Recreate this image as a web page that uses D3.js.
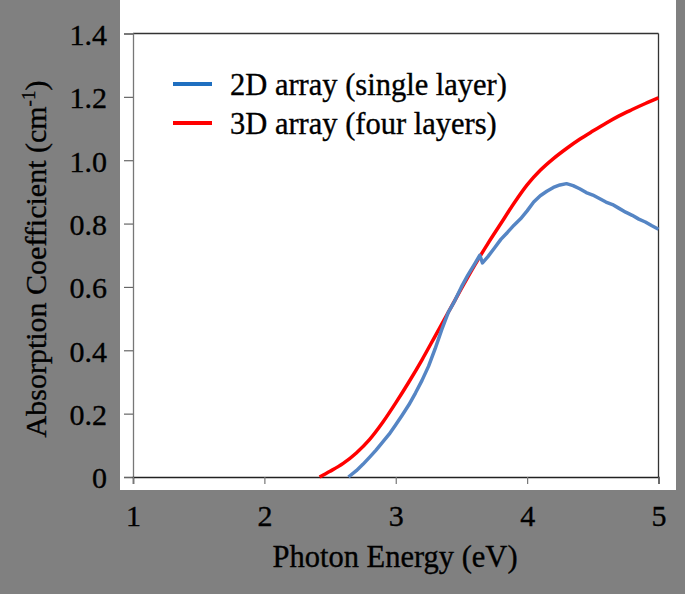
<!DOCTYPE html>
<html>
<head>
<meta charset="utf-8">
<script src="https://cdn.jsdelivr.net/npm/d3@7"></script>
<style>
  html, body { margin: 0; padding: 0; background: #808080; }
  svg { display: block; }
  text { font-family: "Liberation Serif", "Times New Roman", serif; fill: #000; stroke: #000; stroke-width: 0.35px; }
</style>
</head>
<body>
<svg id="chart" width="685" height="594"></svg>
<script>
// ---- data ----
const seriesNames = ["2D array (single layer)", "3D array (four layers)"];
const seriesColors = ["#5585c4", "#ff0000"];
const legendColors = ["#1f6fc0", "#ff0000"];

const energy2D = [2.64, 2.70, 2.75, 2.80, 2.85, 2.90, 2.95, 3.00, 3.05, 3.10, 3.15, 3.20, 3.25, 3.30, 3.35, 3.40, 3.45, 3.50, 3.55, 3.60, 3.64, 3.66, 3.70, 3.75, 3.80, 3.85, 3.90, 3.95, 4.00, 4.05, 4.10, 4.15, 4.20, 4.25, 4.30, 4.35, 4.40, 4.45, 4.50, 4.55, 4.60, 4.65, 4.70, 4.75, 4.80, 4.85, 4.90, 4.95, 5.00];
const absorb2D = [0, 0.02, 0.04, 0.062, 0.085, 0.11, 0.135, 0.165, 0.196, 0.228, 0.265, 0.305, 0.35, 0.405, 0.465, 0.52, 0.557, 0.60, 0.638, 0.672, 0.70, 0.676, 0.695, 0.722, 0.75, 0.772, 0.795, 0.815, 0.84, 0.868, 0.888, 0.902, 0.914, 0.922, 0.926, 0.92, 0.91, 0.898, 0.89, 0.879, 0.868, 0.86, 0.848, 0.836, 0.826, 0.814, 0.805, 0.793, 0.782];

const energy3D = [2.42, 2.5, 2.6, 2.7, 2.8, 2.9, 3.0, 3.1, 3.2, 3.3, 3.4, 3.5, 3.6, 3.7, 3.8, 3.9, 4.0, 4.1, 4.2, 4.3, 4.4, 4.5, 4.6, 4.7, 4.8, 4.9, 5.0];
const absorb3D = [0, 0.018, 0.043, 0.076, 0.118, 0.172, 0.234, 0.30, 0.37, 0.445, 0.52, 0.595, 0.668, 0.736, 0.80, 0.864, 0.922, 0.968, 1.005, 1.037, 1.066, 1.092, 1.117, 1.14, 1.16, 1.179, 1.197];

const xTicks = [1, 2, 3, 4, 5];
const yTicks = [0, 0.2, 0.4, 0.6, 0.8, 1.0, 1.2, 1.4];
const yTickLabels = ["0", "0.2", "0.4", "0.6", "0.8", "1.0", "1.2", "1.4"];

// ---- layout ----
const svg = d3.select("#chart");
const pLeft = 133, pRight = 658.5, pTop = 33.5, pBottom = 477;
const x = d3.scaleLinear().domain([1, 5]).range([pLeft, pRight]);
const y = d3.scaleLinear().domain([0, 1.4]).range([pBottom, pTop]);

svg.append("rect").attr("x", 120).attr("y", 0).attr("width", 556).attr("height", 490).attr("fill", "#fff");

svg.append("line").attr("x1", pLeft).attr("x2", pRight).attr("y1", pTop).attr("y2", pTop)
  .attr("stroke", "#333").attr("stroke-width", 1.3);
svg.append("line").attr("x1", pRight).attr("x2", pRight).attr("y1", pTop).attr("y2", pBottom)
  .attr("stroke", "#333").attr("stroke-width", 1.3);

const yAxis = svg.append("g").attr("transform", `translate(${pLeft},0)`)
  .call(d3.axisLeft(y).tickValues(yTicks).tickSize(9).tickFormat((d, i) => yTickLabels[i]));
yAxis.select(".domain").attr("stroke", "#777").attr("stroke-width", 1.3);
yAxis.selectAll(".tick line").attr("stroke", "#666").attr("stroke-width", 1.2);
yAxis.selectAll(".tick text").attr("x", -26).attr("dy", "0.36em")
  .style("font-size", "30px").style("font-family", '"Liberation Serif", serif').attr("fill", "#000");

const xAxis = svg.append("g").attr("transform", `translate(0,${pBottom})`)
  .call(d3.axisBottom(x).tickValues(xTicks).tickSize(7).tickFormat(d3.format("d")));
xAxis.select(".domain").attr("stroke", "#222").attr("stroke-width", 1.5);
xAxis.selectAll(".tick line").attr("stroke", "#777").attr("stroke-width", 1.2);
xAxis.selectAll(".tick text").attr("y", 49).attr("dy", 0)
  .style("font-size", "30px").style("font-family", '"Liberation Serif", serif').attr("fill", "#000");

const data2D = energy2D.map((e, i) => [e, absorb2D[i]]);
const data3D = energy3D.map((e, i) => [e, absorb3D[i]]);

svg.append("path").datum(data3D)
  .attr("d", d3.line().x(d => x(d[0])).y(d => y(d[1])).curve(d3.curveMonotoneX))
  .attr("fill", "none").attr("stroke", seriesColors[1]).attr("stroke-width", 3.5);
svg.append("path").datum(data2D)
  .attr("d", d3.line().x(d => x(d[0])).y(d => y(d[1])).curve(d3.curveLinear))
  .attr("fill", "none").attr("stroke", seriesColors[0]).attr("stroke-width", 3.5).attr("stroke-linejoin", "round");

const legendY = [84, 123];
seriesNames.forEach((name, i) => {
  svg.append("line").attr("x1", 173).attr("x2", 212).attr("y1", legendY[i]).attr("y2", legendY[i])
    .attr("stroke", legendColors[i]).attr("stroke-width", 4);
  svg.append("text").attr("x", 230).attr("y", legendY[i] + 11)
    .style("font-size", "30.5px").text(name);
});

svg.append("text").attr("x", (271.7 + 518.3) / 2).attr("y", 567).attr("text-anchor", "middle")
  .style("font-size", "30.5px").text("Photon Energy (eV)");

const yt = svg.append("text").attr("transform", "translate(46,259) rotate(-90)").attr("text-anchor", "middle")
  .style("font-size", "30px");
yt.append("tspan").text("Absorption Coefficient (cm");
yt.append("tspan").attr("dy", -11).style("font-size", "19px").text("-1");
yt.append("tspan").attr("dy", 11).text(")");
</script>
</body>
</html>
